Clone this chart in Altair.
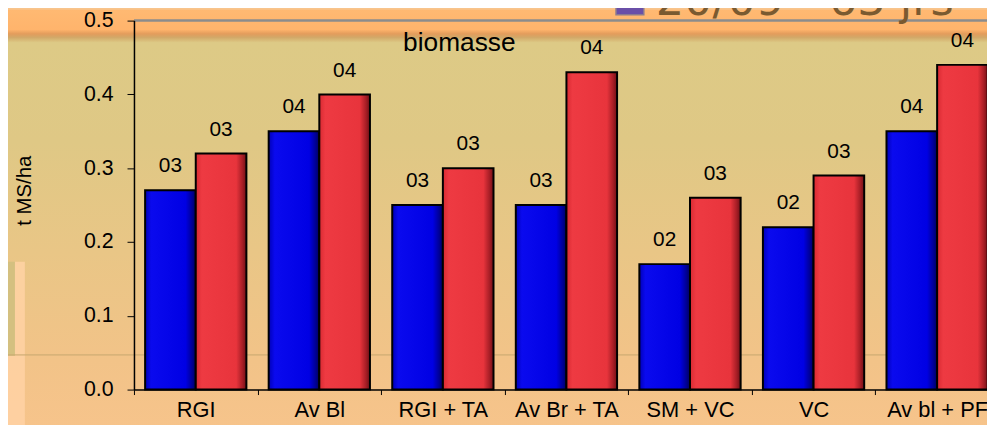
import altair as alt
import pandas as pd

categories = ["RGI", "Av Bl", "RGI + TA", "Av Br + TA", "SM + VC", "VC", "Av bl + PF"]
blue_values = [0.27, 0.35, 0.25, 0.25, 0.17, 0.22, 0.35]
red_values = [0.32, 0.40, 0.30, 0.43, 0.26, 0.29, 0.44]
blue_labels = ["03", "04", "03", "03", "02", "02", "04"]
red_labels = ["03", "04", "03", "04", "03", "03", "04"]
y_ticks = [0.0, 0.1, 0.2, 0.3, 0.4, 0.5]
chart_title = "biomasse"
legend_text = "20/09 - 63 jrs"
y_title = "t MS/ha"

rows = []
for c, v, l in zip(categories, blue_values, blue_labels):
    rows.append({"cat": c, "series": "a", "value": v, "label": l})
for c, v, l in zip(categories, red_values, red_labels):
    rows.append({"cat": c, "series": "b", "value": v, "label": l})
df = pd.DataFrame(rows)

W, H = 860, 372
FONT = "Liberation Sans"

x_enc = alt.X("cat:N", sort=categories,
              scale=alt.Scale(paddingInner=0, paddingOuter=0, range=[0, 872]),
              axis=alt.Axis(title=None, tickBand="extent", labelAngle=0, labelFontSize=22,
                            labelFont=FONT, labelColor="black", domainColor="black",
                            domainWidth=1.5, tickColor="black", tickSize=5, tickWidth=1,
                            labelPadding=5, zindex=2))
xo_enc = alt.XOffset("series:N", scale=alt.Scale(domain=["a", "b"], paddingOuter=0.22, paddingInner=0))
y_enc = alt.Y("value:Q", scale=alt.Scale(domain=[0, 0.5], nice=False),
              axis=alt.Axis(values=y_ticks, format=".1f", grid=False, labelFontSize=21.5,
                            labelFont=FONT, labelColor="black", domainColor="black",
                            domainWidth=1.5, tickColor="black", tickSize=7, labelPadding=14,
                            title=y_title, titleFont=FONT, titleFontSize=20.5,
                            titleFontWeight="normal", titleColor="black", titleAngle=270,
                            titleX=-110, titleY=171, titleAlign="center",
                            titleBaseline="middle", zindex=2))

bg_grad = alt.Gradient(
    gradient="linear", x1=0, x2=0, y1=0, y2=1,
    stops=[
        alt.GradientStop(color="#FFB972", offset=0.0),
        alt.GradientStop(color="#FFB46C", offset=0.045),
        alt.GradientStop(color="#E39C5C", offset=0.055),
        alt.GradientStop(color="#D2A868", offset=0.063),
        alt.GradientStop(color="#DDCA86", offset=0.075),
        alt.GradientStop(color="#DFC885", offset=0.3),
        alt.GradientStop(color="#E9C686", offset=0.55),
        alt.GradientStop(color="#F2C388", offset=0.8),
        alt.GradientStop(color="#F8C48C", offset=1.0),
    ])

one = alt.Data(values=[{"k": 1}])

background = alt.Chart(one).mark_rect(fill=bg_grad).encode(
    x=alt.value(-127), x2=alt.value(W + 10), y=alt.value(-11), y2=alt.value(H + 60))

side_panel = alt.Chart(one).mark_rect(fill="#FFD2A4", opacity=0.85).encode(
    x=alt.value(-127), x2=alt.value(-110), y=alt.value(243), y2=alt.value(H + 60))
side_strip = alt.Chart(one).mark_rect(fill="#C9BC78", opacity=0.8).encode(
    x=alt.value(-127), x2=alt.value(-120), y=alt.value(243), y2=alt.value(338))

faint_line = alt.Chart(one).mark_rule(color="#C8A870", strokeWidth=2, opacity=0.6).encode(
    x=alt.value(-127), x2=alt.value(W + 10), y=alt.value(337))

top_border = alt.Chart(one).mark_rule(color="#8C8C8C", strokeWidth=2.5).encode(
    x=alt.value(0), x2=alt.value(W + 10), y=alt.value(0))

blue_grad = alt.Gradient(
    gradient="linear", x1=0, x2=1, y1=0, y2=0,
    stops=[
        alt.GradientStop(color="#0000B8", offset=0.0),
        alt.GradientStop(color="#0A0AEE", offset=0.12),
        alt.GradientStop(color="#0000E4", offset=0.8),
        alt.GradientStop(color="#00009A", offset=0.92),
        alt.GradientStop(color="#000060", offset=1.0),
    ])
red_grad = alt.Gradient(
    gradient="linear", x1=0, x2=1, y1=0, y2=0,
    stops=[
        alt.GradientStop(color="#D82A32", offset=0.0),
        alt.GradientStop(color="#EE3A42", offset=0.12),
        alt.GradientStop(color="#E8343C", offset=0.8),
        alt.GradientStop(color="#A81E26", offset=0.92),
        alt.GradientStop(color="#701016", offset=1.0),
    ])

base = alt.Chart(df)
blue_bars = base.transform_filter(alt.datum.series == "a").mark_bar(
    fill=blue_grad, stroke="black", strokeWidth=2).encode(x=x_enc, xOffset=xo_enc, y=y_enc)
red_bars = base.transform_filter(alt.datum.series == "b").mark_bar(
    fill=red_grad, stroke="black", strokeWidth=2).encode(x=x_enc, xOffset=xo_enc, y=y_enc)

labels = base.mark_text(font=FONT, fontSize=21, color="black", baseline="alphabetic",
                        dy=-18).encode(x=x_enc, xOffset=xo_enc, y=y_enc, text="label:N")

title_txt = alt.Chart(alt.Data(values=[{"t": chart_title}])).mark_text(
    font=FONT, fontSize=26.5, color="black", align="center", baseline="middle").encode(
    x=alt.value(328), y=alt.value(23), text="t:N")

legend_sq = alt.Chart(one).mark_rect(fill="#6A4FA8", stroke="#8A7A90", strokeWidth=1.5).encode(
    x=alt.value(486), x2=alt.value(514), y=alt.value(-30), y2=alt.value(-6))
legend_txt = alt.Chart(alt.Data(values=[{"t": legend_text}])).mark_text(
    font="DejaVu Sans", fontSize=45, color="#7A5A30", align="left", baseline="alphabetic").encode(
    x=alt.value(526), y=alt.value(-6), text="t:N")

chart = alt.layer(
    background, side_panel, side_strip, faint_line,
    blue_bars, red_bars, labels, top_border, title_txt, legend_sq, legend_txt
).properties(
    width=W, height=H,
    autosize=alt.AutoSizeParams(type="none"),
    padding={"left": 127, "top": 11, "right": 0, "bottom": 34},
).configure_view(stroke=None).configure(background="#F8C48C")

chart.save("out.html", embed_options={"renderer": "svg", "actions": False})
